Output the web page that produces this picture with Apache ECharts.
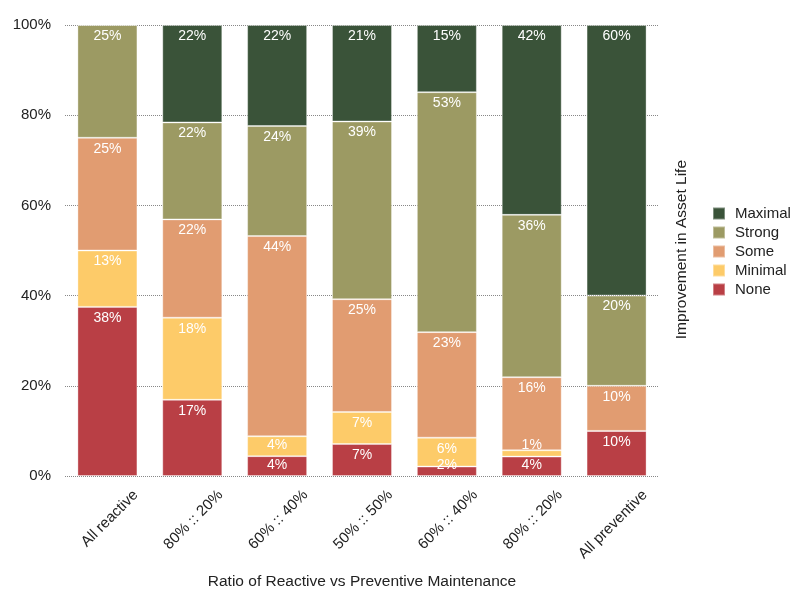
<!DOCTYPE html>
<html>
<head>
<meta charset="utf-8">
<script src="https://cdn.jsdelivr.net/npm/echarts@6/dist/echarts.min.js"></script>
<style>
  html, body { margin: 0; padding: 0; background: #fff; }
  #chart { width: 800px; height: 604px; }
</style>
</head>
<body>
<div id="chart"></div>
<script>
const categories = ["All reactive", "80% :: 20%", "60% :: 40%", "50% :: 50%", "60% :: 40%", "80% :: 20%", "All preventive"];

// share of respondents (%), bottom to top
const none = [37.5, 16.9, 4.4, 7.1, 2.1, 4.3, 10];
const minimal = [12.5, 18.2, 4.4, 7.1, 6.4, 1.4, 0];
const some = [25, 21.8, 44.4, 25, 23.4, 16.2, 10];
const strong = [25, 21.5, 24.4, 39.4, 53.2, 36, 20];
const maximal = [0, 21.6, 22.4, 21.4, 14.9, 42.1, 60];

const yTicks = [0, 20, 40, 60, 80, 100];

const font = "'Liberation Sans', Helvetica, Arial, sans-serif";

const chart = echarts.init(document.getElementById("chart"));

function makeSeries(name, data, color) {
  return {
    name: name,
    type: "bar",
    stack: "total",
    // thin segments get their label pinned to the bottom instead of the top
    data: data.map((v) =>
      v < 5 ? { value: v, label: { position: "insideBottom" } } : v
    ),
    barWidth: 60,
    itemStyle: {
      color: color,
      borderColor: "rgba(255,255,255,0.35)",
      borderWidth: 1,
    },
    label: {
      show: true,
      position: "insideTop",
      distance: 4,
      color: "#fff",
      fontSize: 14,
      fontFamily: font,
      formatter: (p) => (p.value > 0 ? Math.round(p.value) + "%" : ""),
    },
  };
}

const option = {
  animation: false,
  textStyle: { fontFamily: font },
  grid: { left: 65, right: 141, top: 25, bottom: 128 },
  legend: {
    orient: "vertical",
    left: 707,
    top: 201,
    itemWidth: 12,
    itemHeight: 12,
    itemGap: 4,
    icon: "rect",
    data: ["Maximal", "Strong", "Some", "Minimal", "None"],
    textStyle: { fontSize: 15, color: "#222", fontFamily: font, padding: [0, 0, 0, 5] },
  },
  graphic: [
    {
      type: "text",
      left: 674,
      top: 160,
      rotation: Math.PI / 2,
      style: {
        text: "Improvement in Asset Life",
        fontSize: 15.5,
        fill: "#222",
        fontFamily: font,
      },
    },
  ],
  xAxis: {
    type: "category",
    data: categories,
    axisLine: { show: false },
    axisTick: { show: false },
    axisLabel: {
      rotate: 45,
      fontSize: 15,
      color: "#222",
      margin: 45,
      interval: 0,
      padding: [0, -40, 0, 0],
    },
    name: "Ratio of Reactive vs Preventive Maintenance",
    nameLocation: "middle",
    nameGap: 98,
    nameTextStyle: { fontSize: 15.5, color: "#222" },
  },
  yAxis: {
    type: "value",
    min: yTicks[0],
    max: yTicks[yTicks.length - 1],
    interval: 20,
    axisLine: { show: false },
    axisTick: { show: false },
    axisLabel: {
      formatter: "{value}%",
      fontSize: 15,
      color: "#222",
      margin: 14,
    },
    splitLine: {
      lineStyle: { type: "dotted", color: "#888", width: 1 },
    },
  },
  series: [
    makeSeries("None", none, "#b93f45"),
    makeSeries("Minimal", minimal, "#fdcb69"),
    makeSeries("Some", some, "#e19c71"),
    makeSeries("Strong", strong, "#9c9a63"),
    makeSeries("Maximal", maximal, "#3a5339"),
  ],
};

chart.setOption(option);
</script>
</body>
</html>
